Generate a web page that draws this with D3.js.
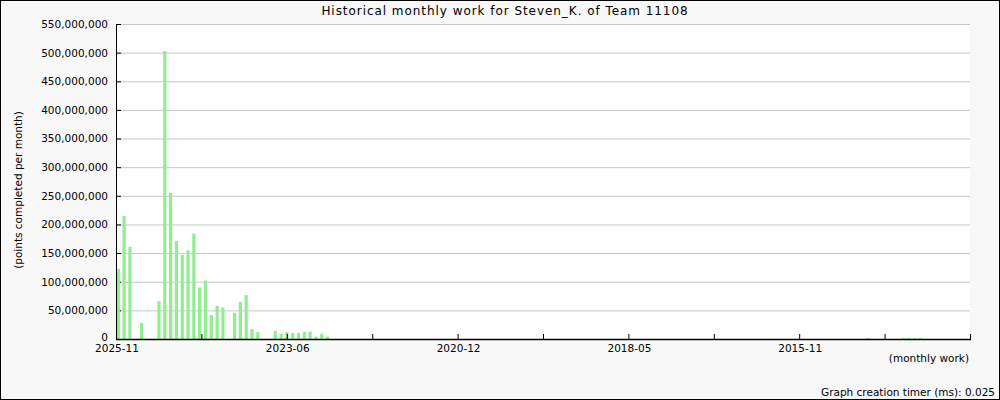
<!DOCTYPE html>
<html>
<head>
<meta charset="utf-8">
<script src="https://cdn.jsdelivr.net/npm/d3@7"></script>
<style>
  html, body { margin: 0; padding: 0; background: #f8f8f8; }
  svg { display: block; font-family: "DejaVu Sans", sans-serif; }
</style>
</head>
<body>
<svg id="chart" width="1000" height="400"></svg>
<script>
// ---- data ----
const titleText = "Historical monthly work for Steven_K. of Team 11108";
const yAxisTitle = "(points completed per month)";
const xAxisTitle = "(monthly work)";
const footerText = "Graph creation timer (ms): 0.025";

// months back from 2025-11 (0 = 2025-11)
const monthIndex = [0, 1, 2, 4, 7, 8, 9, 10, 11, 12, 13, 14, 15, 16, 17, 18,
  20, 21, 22, 23, 24, 27, 28, 29, 30, 31, 32, 33, 34, 35, 36,
  129, 135, 136, 137, 138];
// points completed per month
const monthPoints = [122000000, 215000000, 161000000, 28000000, 66000000, 503000000,
  255000000, 171000000, 147000000, 155000000, 184000000, 90000000, 102000000,
  42000000, 58000000, 55000000,
  46000000, 65000000, 77000000, 17500000, 12000000,
  14500000, 9300000, 12200000, 10500000, 10500000, 12800000, 12800000, 4100000, 9300000, 4100000,
  1800000, 1800000, 1800000, 1800000, 1800000];

const xTickLabels = ["2025-11", "2023-06", "2020-12", "2018-05", "2015-11"];
const yTicks = [0, 50000000, 100000000, 150000000, 200000000, 250000000,
  300000000, 350000000, 400000000, 450000000, 500000000, 550000000];

// ---- layout ----
const W = 1000, H = 400;
const pLeft = 116, pRight = 970, pTop = 24, pBottom = 339;
const monthSpan = 146.9;
const tickCount = 10;

const svg = d3.select("#chart");

svg.append("rect").attr("x", 0).attr("y", 0).attr("width", W).attr("height", H)
  .attr("fill", "#f8f8f8");
svg.append("rect").attr("x", pLeft).attr("y", pTop).attr("width", pRight - pLeft).attr("height", pBottom - pTop)
  .attr("fill", "#ffffff");

const x = d3.scaleLinear().domain([0, monthSpan]).range([pLeft, pRight]);
const y = d3.scaleLinear().domain([0, 550000000]).range([pBottom, pTop]);

// gridlines
svg.append("g").selectAll("line").data(yTicks.filter(d => d > 0)).join("line")
  .attr("x1", pLeft).attr("x2", pRight)
  .attr("y1", d => y(d) + 0.5).attr("y2", d => y(d) + 0.5)
  .attr("stroke", "#c8c8c8").attr("stroke-width", 1);

// y axis
const yAxis = d3.axisLeft(y).tickValues(yTicks).tickFormat(d3.format(",")).tickSize(0).tickPadding(8);
const gy = svg.append("g").attr("transform", `translate(${pLeft},0)`).call(yAxis);
gy.select(".domain").remove();
gy.selectAll("text").attr("font-size", "10.5px").attr("fill", "#000")
  .attr("font-family", "DejaVu Sans, sans-serif");
gy.selectAll(".tick").filter(d => d === 0).select("text").attr("dy", "0.12em");
// inward tick marks
svg.append("g").selectAll("line").data(yTicks).join("line")
  .attr("x1", pLeft).attr("x2", pLeft + 5)
  .attr("y1", d => y(d) + 0.5).attr("y2", d => y(d) + 0.5)
  .attr("stroke", "#000");

// bars
const bars = monthIndex.map((m, i) => ({ m, v: monthPoints[i] }));
svg.append("g").selectAll("rect").data(bars).join("rect")
  .attr("x", d => x(d.m) + 0.7)
  .attr("width", 3.2)
  .attr("y", d => y(d.v))
  .attr("height", d => pBottom - y(d.v))
  .attr("fill", "#90ee90");

// x axis ticks (upward) + labels
const tickPos = d3.range(tickCount + 1).map(k => pLeft + k * (pRight - pLeft) / tickCount);
svg.append("g").selectAll("line").data(tickPos.slice(1)).join("line")
  .attr("x1", d => d + 0.5).attr("x2", d => d + 0.5)
  .attr("y1", pBottom - 5).attr("y2", pBottom)
  .attr("stroke", "#000");
svg.append("g").selectAll("text").data(xTickLabels).join("text")
  .attr("x", (d, i) => tickPos[i * 2] + 1)
  .attr("y", 352)
  .attr("text-anchor", "middle")
  .attr("font-size", "10.5px")
  .text(d => d);

// axis lines
svg.append("line").attr("x1", pLeft + 0.5).attr("x2", pLeft + 0.5).attr("y1", pTop).attr("y2", pBottom + 1)
  .attr("stroke", "#000");
svg.append("line").attr("x1", pLeft).attr("x2", pRight + 1).attr("y1", pBottom + 0.5).attr("y2", pBottom + 0.5)
  .attr("stroke", "#000").attr("stroke-width", 1.3);

// titles
svg.append("text").attr("x", 505).attr("y", 15).attr("text-anchor", "middle")
  .attr("font-size", "12px").attr("letter-spacing", "0.95px").text(titleText);
svg.append("text").attr("transform", "translate(22,190) rotate(-90)")
  .attr("text-anchor", "middle").attr("font-size", "10.5px").text(yAxisTitle);
svg.append("text").attr("x", 969).attr("y", 362).attr("text-anchor", "end")
  .attr("font-size", "10.5px").text(xAxisTitle);
svg.append("text").attr("x", 995).attr("y", 396).attr("text-anchor", "end")
  .attr("font-size", "10.5px").text(footerText);

// border
svg.append("rect").attr("x", 0.5).attr("y", 0.5).attr("width", W - 1).attr("height", H - 1)
  .attr("fill", "none").attr("stroke", "#000");
</script>
</body>
</html>
